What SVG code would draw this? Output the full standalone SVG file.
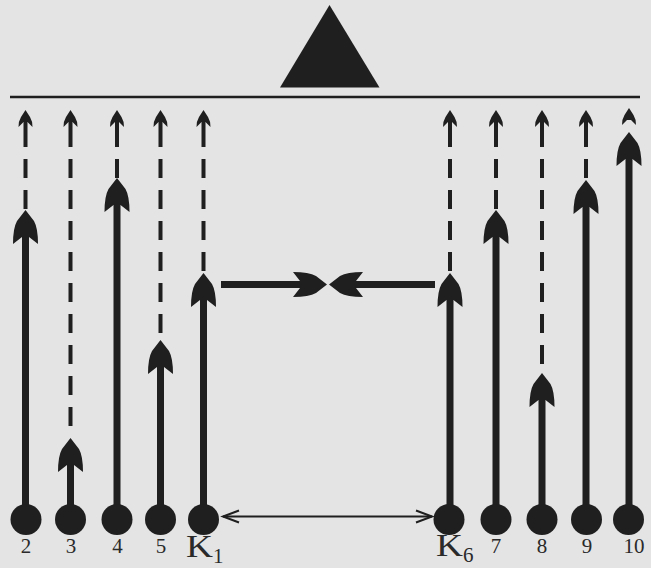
<svg xmlns="http://www.w3.org/2000/svg" width="651" height="568" viewBox="0 0 651 568">
<style>
.bg{fill:#e4e4e4}
.ink{fill:#1f1f1f}
.shaft{stroke:#1f1f1f;stroke-width:7;fill:none}
.dash{stroke:#1f1f1f;stroke-width:4;fill:none;stroke-dasharray:19 12}
.stem{stroke:#1f1f1f;stroke-width:4;fill:none}
.thin{stroke:#1f1f1f;stroke-width:2;fill:none}
.lbl{font-family:"Liberation Serif","DejaVu Serif",serif;font-size:21px;fill:#2a2a2a;text-anchor:middle}
.k{font-family:"Liberation Serif","DejaVu Serif",serif;font-size:32px;fill:#2a2a2a}
.sub{font-family:"Liberation Serif","DejaVu Serif",serif;font-size:21px;fill:#2a2a2a}
</style>
<defs>
<path id="big" d="M0,0 L8.5,11 Q12.5,18 12.5,34 L3.5,27 L-3.5,27 L-12.5,34 Q-12.5,18 -8.5,11 Z"/>
<path id="small" d="M0,0 L4.5,7 Q7,11 7,17 L2,12 L-2,12 L-7,17 Q-7,11 -4.5,7 Z"/>
</defs>
<rect class="bg" x="0" y="0" width="651" height="568"/>
<g id="apex">
<polygon class="ink" points="329.5,5 280,87.5 379.5,87.5"/>
</g>
<g id="baseline">
<line x1="10" y1="97" x2="640" y2="97" stroke="#1f1f1f" stroke-width="2.5"/>
</g>
<g id="connectors">
<!-- col 2 -->
<use href="#small" class="ink" x="25.5" y="110"/>
<line class="stem" x1="25.5" y1="121" x2="25.5" y2="147"/>
<line class="dash" x1="25.5" y1="159" x2="25.5" y2="210"/>
<line class="shaft" x1="25.5" y1="235" x2="25.5" y2="519"/>
<use href="#big" class="ink" x="25.5" y="210"/>
<!-- col 3 -->
<use href="#small" class="ink" x="70.5" y="110"/>
<line class="stem" x1="70.5" y1="121" x2="70.5" y2="147"/>
<line class="dash" x1="70.5" y1="159" x2="70.5" y2="430"/>
<line class="shaft" x1="70.5" y1="463" x2="70.5" y2="519"/>
<use href="#big" class="ink" x="70.5" y="438"/>
<!-- col 4 -->
<use href="#small" class="ink" x="117" y="110"/>
<line class="stem" x1="117" y1="121" x2="117" y2="147"/>
<line class="dash" x1="117" y1="159" x2="117" y2="178"/>
<line class="shaft" x1="117" y1="203" x2="117" y2="519"/>
<use href="#big" class="ink" x="117" y="178"/>
<!-- col 5 -->
<use href="#small" class="ink" x="160.5" y="110"/>
<line class="stem" x1="160.5" y1="121" x2="160.5" y2="147"/>
<line class="dash" x1="160.5" y1="159" x2="160.5" y2="338"/>
<line class="shaft" x1="160.5" y1="365" x2="160.5" y2="519"/>
<use href="#big" class="ink" x="160.5" y="340"/>
<!-- K1 -->
<use href="#small" class="ink" x="203.5" y="110"/>
<line class="stem" x1="203.5" y1="121" x2="203.5" y2="147"/>
<line class="dash" x1="203.5" y1="159" x2="203.5" y2="272"/>
<line class="shaft" x1="203.5" y1="298" x2="203.5" y2="519"/>
<use href="#big" class="ink" x="203.5" y="273"/>
<!-- K6 -->
<use href="#small" class="ink" x="450" y="110"/>
<line class="stem" x1="450" y1="121" x2="450" y2="147"/>
<line class="dash" x1="450" y1="159" x2="450" y2="272"/>
<line class="shaft" x1="450" y1="298" x2="450" y2="519"/>
<use href="#big" class="ink" x="450" y="273"/>
<!-- col 7 -->
<use href="#small" class="ink" x="496" y="110"/>
<line class="stem" x1="496" y1="121" x2="496" y2="147"/>
<line class="dash" x1="496" y1="159" x2="496" y2="210"/>
<line class="shaft" x1="496" y1="235" x2="496" y2="519"/>
<use href="#big" class="ink" x="496" y="210"/>
<!-- col 8 -->
<use href="#small" class="ink" x="542" y="110"/>
<line class="stem" x1="542" y1="121" x2="542" y2="147"/>
<line class="dash" x1="542" y1="159" x2="542" y2="364"/>
<line class="shaft" x1="542" y1="398" x2="542" y2="519"/>
<use href="#big" class="ink" x="542" y="373"/>
<!-- col 9 -->
<use href="#small" class="ink" x="586" y="110"/>
<line class="stem" x1="586" y1="121" x2="586" y2="147"/>
<line class="dash" x1="586" y1="159" x2="586" y2="180"/>
<line class="shaft" x1="586" y1="205" x2="586" y2="519"/>
<use href="#big" class="ink" x="586" y="180"/>
<!-- col 10 -->
<use href="#small" class="ink" x="629" y="108"/>
<line class="shaft" x1="629" y1="157" x2="629" y2="519"/>
<use href="#big" class="ink" x="629" y="132"/>
<!-- converging horizontal arrows -->
<line class="shaft" x1="221" y1="284.5" x2="302" y2="284.5"/>
<use href="#big" class="ink" transform="translate(327,284.5) rotate(90)"/>
<line class="shaft" x1="354" y1="284.5" x2="435" y2="284.5"/>
<use href="#big" class="ink" transform="translate(329,284.5) rotate(-90)"/>
<!-- double-headed thin arrow -->
<line class="thin" x1="223" y1="516.5" x2="432" y2="516.5"/>
<polyline class="thin" points="239,510.5 223,516.5 239,522.5"/>
<polyline class="thin" points="416,510.5 432,516.5 416,522.5"/>
</g>
<g id="node-2"><circle class="ink" cx="26" cy="519.5" r="15.5"/><text class="lbl" x="26" y="553">2</text></g>
<g id="node-3"><circle class="ink" cx="70.5" cy="519.5" r="15.5"/><text class="lbl" x="71" y="553">3</text></g>
<g id="node-4"><circle class="ink" cx="117" cy="519.5" r="15.5"/><text class="lbl" x="117.5" y="553">4</text></g>
<g id="node-5"><circle class="ink" cx="160.5" cy="519.5" r="15.5"/><text class="lbl" x="161" y="553">5</text></g>
<g id="node-K1"><circle class="ink" cx="203.5" cy="519.5" r="15.5"/><text class="k" x="186" y="557" textLength="27" lengthAdjust="spacingAndGlyphs">K</text><text class="sub" x="213" y="563">1</text></g>
<g id="node-K6"><circle class="ink" cx="449" cy="519.5" r="15.5"/><text class="k" x="436" y="556" textLength="27" lengthAdjust="spacingAndGlyphs">K</text><text class="sub" x="463" y="562">6</text></g>
<g id="node-7"><circle class="ink" cx="496" cy="519.5" r="15.5"/><text class="lbl" x="496" y="553">7</text></g>
<g id="node-8"><circle class="ink" cx="542" cy="519.5" r="15.5"/><text class="lbl" x="542" y="553">8</text></g>
<g id="node-9"><circle class="ink" cx="586.5" cy="519.5" r="15.5"/><text class="lbl" x="587" y="553">9</text></g>
<g id="node-10"><circle class="ink" cx="628.5" cy="519.5" r="15.5"/><text class="lbl" x="634" y="553">10</text></g>
</svg>
